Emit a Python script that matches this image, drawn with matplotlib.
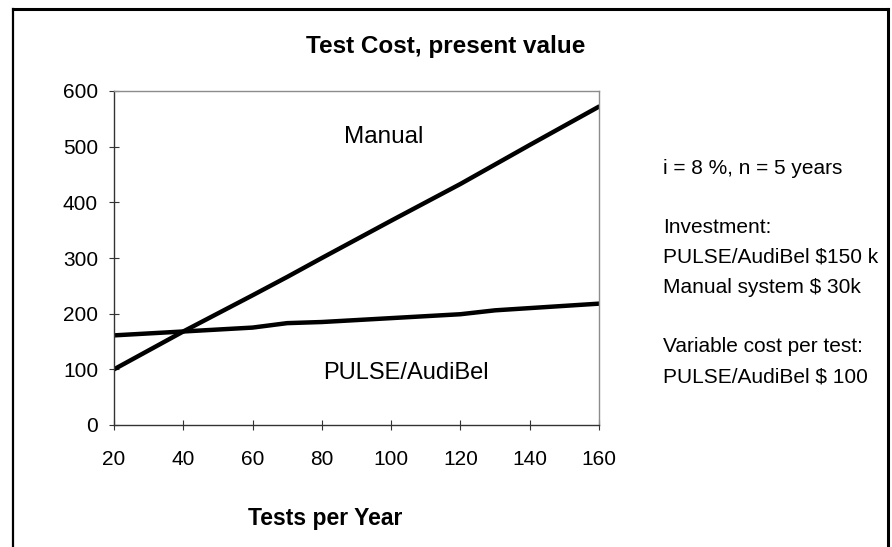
import matplotlib
matplotlib.use("Agg")
import matplotlib.pyplot as plt
from matplotlib.lines import Line2D

plt.rcParams['font.family'] = ['Liberation Sans', 'DejaVu Sans']

# tests per year
tests = [20, 40, 60, 70, 80, 100, 120, 130, 140, 160]
# present value cost
manual = [100, 168, 233, 266, 300, 367, 433, 468, 503, 572]
pulse = [161, 168, 175, 183, 185, 192, 199, 206, 210, 218]

notes = ["i = 8 %, n = 5 years", "",
         "Investment:", "PULSE/AudiBel $150 k", "Manual system $ 30k", "",
         "Variable cost per test:", "PULSE/AudiBel $ 100"]

W, H = 892, 547
fig = plt.figure(figsize=(W / 100, H / 100), dpi=100)
ax = fig.add_axes([114 / W, 1 - 425 / H, (599 - 114) / W, (425 - 91) / H])

ax.plot(tests, manual, color='black', lw=3.2, solid_capstyle='round')
ax.plot(tests, pulse, color='black', lw=3.2, solid_capstyle='round')

ax.set_xlim(20, 160)
ax.set_ylim(0, 600)
ax.set_xticks(range(20, 161, 20))
ax.set_yticks(range(0, 601, 100))
ax.tick_params(direction='inout', length=7, width=0.8, labelsize=15, color='#333333')
ax.tick_params(axis='x', pad=14.5)
ax.tick_params(axis='y', pad=8)
for s in ['top', 'right']:
    ax.spines[s].set_color('#8c8c8c')
    ax.spines[s].set_linewidth(1.0)
for s in ['left', 'bottom']:
    ax.spines[s].set_color('#333333')
    ax.spines[s].set_linewidth(1.0)

ax.text(384 / W, 1 - 137 / H, "Manual", transform=fig.transFigure,
        ha='center', va='center', fontsize=17.5)
ax.text(406 / W, 1 - 373 / H, "PULSE/AudiBel", transform=fig.transFigure,
        ha='center', va='center', fontsize=17)

fig.text(446 / W, 1 - 47 / H, "Test Cost, present value", ha='center', va='center',
         fontsize=17.5, fontweight='bold')
fig.text(325 / W, 1 - 519 / H, "Tests per Year", ha='center', va='center',
         fontsize=16.5, fontweight='bold')

y0 = 168
for i, line in enumerate(notes):
    if line:
        fig.text(663 / W, 1 - (y0 + i * 29.8) / H, line, ha='left', va='center', fontsize=15)

# outer frame (no bottom edge)
fig.add_artist(Line2D([13 / W, 13 / W], [0, 1 - 9 / H], color='black', lw=1.6))
fig.add_artist(Line2D([13 / W, 888 / W], [1 - 9 / H, 1 - 9 / H], color='black', lw=2.2))
fig.add_artist(Line2D([888 / W, 888 / W], [1 - 9 / H, 0], color='black', lw=2.2))

fig.savefig("out.png", dpi=100)
